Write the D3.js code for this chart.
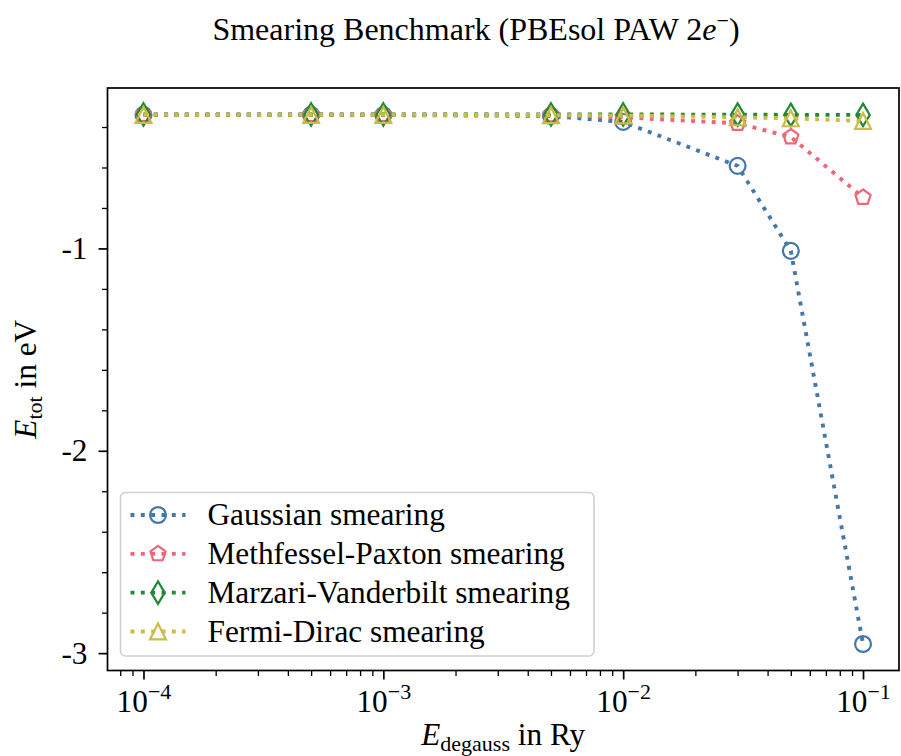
<!DOCTYPE html>
<html>
<head>
<meta charset="utf-8">
<script src="https://cdn.jsdelivr.net/npm/d3@7"></script>
<style>
  body { margin: 0; background: #fff; }
  svg { display: block; }
  text { font-family: "Liberation Serif", "DejaVu Serif", serif; fill: #000; }
</style>
</head>
<body>
<svg width="901" height="756"></svg>
<script>
// degauss values (Ry) and total energies (eV)
const degauss = [1e-4, 5e-4, 1e-3, 5e-3, 1e-2, 3e-2, 5e-2, 1e-1];
const gaussian = [-0.340, -0.340, -0.341, -0.345, -0.375, -0.592, -1.012, -2.955];
const methfessel = [-0.339, -0.339, -0.339, -0.340, -0.352, -0.382, -0.449, -0.748];
const marzari = [-0.338, -0.338, -0.338, -0.338, -0.338, -0.339, -0.340, -0.340];
const fermi = [-0.340, -0.340, -0.340, -0.341, -0.343, -0.352, -0.357, -0.370];

const seriesNames = ["Gaussian smearing", "Methfessel-Paxton smearing", "Marzari-Vanderbilt smearing", "Fermi-Dirac smearing"];
const seriesColors = ["#4477AA", "#EE6677", "#228833", "#CCBB44"];
const seriesMarkers = ["circle", "pentagon", "thinDiamond", "triangle"];

const xTickValues = [1e-4, 1e-3, 1e-2, 1e-1];
const xTickExponents = ["\u22124", "\u22123", "\u22122", "\u22121"];
const yTickValues = [-1, -2, -3];
const yTickLabels = ["-1", "-2", "-3"];

const allSeries = [gaussian, methfessel, marzari, fermi];

let svg = d3.select('svg');
let plot = {left: 107.5, right: 899, top: 88, bottom: 670.5};
let fontSize = 31.3;

// log x axis with matplotlib style 5% margins (in decades)
let xExt = d3.extent(degauss).map(Math.log10);
let xPad = (xExt[1] - xExt[0]) * 0.05;
let x = d3.scaleLog()
  .domain([10 ** (xExt[0] - xPad), 10 ** (xExt[1] + xPad)])
  .range([plot.left, plot.right]);

let yExt = d3.extent(allSeries.flat());
let yPad = (yExt[1] - yExt[0]) * 0.05;
let y = d3.scaleLinear()
  .domain([yExt[0] - yPad, yExt[1] + yPad])
  .range([plot.bottom, plot.top]);

// minor ticks
let xMinor = [];
for (let e = -5; e <= 0; e++) {
  for (let m = 2; m <= 9; m++) {
    let v = m * 10 ** e;
    if (v >= x.domain()[0] && v <= x.domain()[1]) xMinor.push(v);
  }
}
let yMinor = d3.range(-3.0, -0.2, 0.2).map(v => +v.toFixed(1))
  .filter(v => v >= y.domain()[0] && v <= y.domain()[1] && !yTickValues.includes(v));

let axes = svg.append('g').attr('class', 'axes');

function styleAxis(g, width) {
  g.select('.domain').remove();
  g.selectAll('line').attr('stroke', '#000').attr('stroke-width', width);
}

axes.append('g')
  .attr('transform', `translate(0,${plot.bottom})`)
  .call(d3.axisBottom(x).tickValues(xMinor).tickSize(5.5).tickFormat(''))
  .call(styleAxis, 1.3);

let xMajor = axes.append('g')
  .attr('transform', `translate(0,${plot.bottom})`)
  .call(d3.axisBottom(x).tickValues(xTickValues).tickSize(9).tickFormat(''))
  .call(styleAxis, 1.7);

xMajor.selectAll('.tick text').remove();
xMajor.selectAll('.tick')
  .append('text')
  .attr('y', 41)
  .attr('text-anchor', 'middle')
  .attr('font-size', fontSize)
  .each(function(d, i) {
    let t = d3.select(this);
    t.append('tspan').text('10');
    t.append('tspan').attr('dy', -13).attr('font-size', 22).text(xTickExponents[i]);
  });

axes.append('g')
  .attr('transform', `translate(${plot.left},0)`)
  .call(d3.axisLeft(y).tickValues(yMinor).tickSize(5.5).tickFormat(''))
  .call(styleAxis, 1.3);

let yMajor = axes.append('g')
  .attr('transform', `translate(${plot.left},0)`)
  .call(d3.axisLeft(y).tickValues(yTickValues).tickSize(9).tickPadding(11)
    .tickFormat((d, i) => yTickLabels[i]))
  .call(styleAxis, 1.7);

yMajor.selectAll('.tick text')
  .attr('font-size', fontSize)
  .attr('font-family', '"Liberation Serif", serif')
  .attr('fill', '#000');

// marker shapes, sized like matplotlib markers
function markerPath(type, s) {
  let r = s / 2;
  if (type === 'circle') {
    let p = d3.path();
    p.arc(0, 0, r, 0, 2 * Math.PI);
    p.closePath();
    return p.toString();
  }
  let pts;
  if (type === 'pentagon') {
    pts = d3.range(5).map(k => {
      let a = -Math.PI / 2 + k * 2 * Math.PI / 5;
      return [r * Math.cos(a), r * Math.sin(a)];
    });
  } else if (type === 'thinDiamond') {
    let h = s * Math.SQRT1_2;
    pts = [[0, -h], [0.6 * h, 0], [0, h], [-0.6 * h, 0]];
  } else {
    pts = [[0, -r], [r, r], [-r, r]];
  }
  return 'M' + pts.map(p => p.join(',')).join('L') + 'Z';
}

let markerSize = 15.9;
let lineWidth = 3.9;
let dash = `${lineWidth} ${lineWidth * 1.65}`;

let line = d3.line()
  .x(d => x(d[0]))
  .y(d => y(d[1]));

let data = allSeries.map((vals, i) => ({
  name: seriesNames[i],
  color: seriesColors[i],
  marker: seriesMarkers[i],
  points: degauss.map((d, j) => [d, vals[j]])
}));

let series = svg.append('g').attr('class', 'series')
  .selectAll('g')
  .data(data)
  .enter()
  .append('g');

series.append('path')
  .attr('d', d => line(d.points))
  .attr('fill', 'none')
  .attr('stroke', d => d.color)
  .attr('stroke-width', lineWidth)
  .attr('stroke-dasharray', dash);

series.each(function(s) {
  d3.select(this).selectAll('path.marker')
    .data(s.points)
    .enter()
    .append('path')
    .attr('class', 'marker')
    .attr('d', markerPath(s.marker, markerSize))
    .attr('transform', d => `translate(${x(d[0])},${y(d[1])})`)
    .attr('fill', 'none')
    .attr('stroke', s.color)
    .attr('stroke-width', 2.2)
    .attr('stroke-linejoin', 'miter');
});

// frame
svg.append('rect')
  .attr('x', plot.left)
  .attr('y', plot.top)
  .attr('width', plot.right - plot.left)
  .attr('height', plot.bottom - plot.top)
  .attr('fill', 'none')
  .attr('stroke', '#000')
  .attr('stroke-width', 1.7);

// legend
let legend = svg.append('g').attr('transform', 'translate(120.5,492.5)');
legend.append('rect')
  .attr('width', 473.5)
  .attr('height', 163.5)
  .attr('rx', 5)
  .attr('fill', 'rgba(255,255,255,0.8)')
  .attr('stroke', '#d0d0d0')
  .attr('stroke-width', 1.6);

let rowY = d3.scalePoint().domain(seriesNames).range([22.5, 139]);

let rows = legend.selectAll('g.row')
  .data(data)
  .enter()
  .append('g')
  .attr('class', 'row')
  .attr('transform', d => `translate(0,${rowY(d.name)})`);

rows.append('line')
  .attr('x1', 10).attr('x2', 65)
  .attr('stroke', d => d.color)
  .attr('stroke-width', lineWidth)
  .attr('stroke-dasharray', dash);

rows.append('path')
  .attr('d', d => markerPath(d.marker, markerSize))
  .attr('transform', 'translate(37.5,0)')
  .attr('fill', 'none')
  .attr('stroke', d => d.color)
  .attr('stroke-width', 2.2);

rows.append('text')
  .attr('x', 87)
  .attr('y', 10)
  .attr('font-size', fontSize)
  .text(d => d.name);

// title
let title = svg.append('text')
  .attr('x', 476)
  .attr('y', 40)
  .attr('text-anchor', 'middle')
  .attr('font-size', 32);
title.append('tspan').text('Smearing Benchmark (PBEsol PAW 2');
title.append('tspan').attr('font-style', 'italic').text('e');
title.append('tspan').attr('dy', -12).attr('font-size', 22).text('\u2212');
title.append('tspan').attr('dy', 12).text(')');

// axis labels
let xlab = svg.append('text')
  .attr('x', (plot.left + plot.right) / 2)
  .attr('y', 745)
  .attr('text-anchor', 'middle')
  .attr('font-size', fontSize);
xlab.append('tspan').attr('font-style', 'italic').text('E');
xlab.append('tspan').attr('dy', 6).attr('font-size', 22).text('degauss');
xlab.append('tspan').attr('dy', -6).text(' in Ry');

let ylab = svg.append('text')
  .attr('transform', `translate(36,${(plot.top + plot.bottom) / 2}) rotate(-90)`)
  .attr('text-anchor', 'middle')
  .attr('font-size', fontSize);
ylab.append('tspan').attr('font-style', 'italic').text('E');
ylab.append('tspan').attr('dy', 6).attr('font-size', 22).text('tot');
ylab.append('tspan').attr('dy', -6).text(' in eV');
</script>
</body>
</html>
